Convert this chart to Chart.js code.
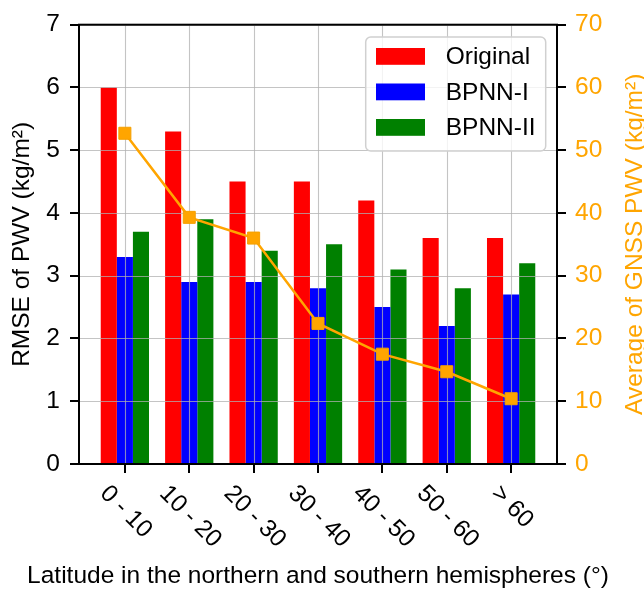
<!DOCTYPE html>
<html><head><meta charset="utf-8">
<script src="https://cdn.jsdelivr.net/npm/chart.js@4.4.1/dist/chart.umd.min.js"></script>
<style>html,body{margin:0;padding:0;background:#fff;overflow:hidden}</style>
</head><body>
<canvas id="c" width="644" height="593"></canvas>
<script>
const categories = ['0 - 10', '10 - 20', '20 - 30', '30 - 40', '40 - 50', '50 - 60', '> 60'];
const seriesNames = ['Original', 'BPNN-I', 'BPNN-II'];
const original = [6.0, 5.3, 4.5, 4.5, 4.2, 3.6, 3.6];
const bpnn1 = [3.3, 2.9, 2.9, 2.8, 2.5, 2.2, 2.7];
const bpnn2 = [3.7, 3.9, 3.4, 3.5, 3.1, 2.8, 3.2];
const gnssPwv = [52.7, 39.3, 36.0, 22.4, 17.5, 14.7, 10.4];
const leftTicks = [0, 1, 2, 3, 4, 5, 6, 7];
const rightTicks = [0, 10, 20, 30, 40, 50, 60, 70];
const xTitle = 'Latitude in the northern and southern hemispheres (°)';
const yTitle = 'RMSE of PWV (kg/m²)';
const y2Title = 'Average of GNSS PWV (kg/m²)';

const FONT = '"Liberation Sans", Arial, sans-serif';
const FS = 24.5;
const ORANGE = '#ffa500';
const barColors = ['#ff0000', '#0000ff', '#008000'];

const toXY = arr => arr.map((v, i) => ({ x: i, y: v }));

const tickGrid = { display: true, drawOnChartArea: false, drawTicks: true, tickLength: 9, color: '#000', lineWidth: 2, offset: false };

const overlay = {
  id: 'overlay',
  beforeDatasetDraw(chart, args) {
    if (args.meta.type !== 'line') return;
    const { ctx, chartArea: a, scales } = chart;
    ctx.save();
    ctx.beginPath(); ctx.rect(a.left, a.top, a.right - a.left, a.bottom - a.top); ctx.clip();
    ctx.strokeStyle = 'rgba(176,176,176,0.75)';
    ctx.lineWidth = 1.1;
    leftTicks.forEach(v => {
      const y = Math.round(scales.y.getPixelForValue(v)) + 0.5;
      ctx.beginPath(); ctx.moveTo(a.left, y); ctx.lineTo(a.right, y); ctx.stroke();
    });
    categories.forEach((c, i) => {
      const x = Math.round(scales.x.getPixelForValue(i)) + 0.5;
      ctx.beginPath(); ctx.moveTo(x, a.top); ctx.lineTo(x, a.bottom); ctx.stroke();
    });
    ctx.restore();
  },
  afterDraw(chart) {
    const { ctx, chartArea: a, scales } = chart;
    ctx.save();
    // frame
    ctx.strokeStyle = '#000'; ctx.lineWidth = 2;
    ctx.strokeRect(a.left, a.top, a.right - a.left, a.bottom - a.top);
    // x tick labels rotated
    ctx.font = FS + 'px ' + FONT;
    ctx.fillStyle = '#000';
    categories.forEach((c, i) => {
      const x = scales.x.getPixelForValue(i);
      const w = ctx.measureText(c).width;
      const cy = a.bottom + 16 + (w * Math.SQRT1_2 + 19.6) / 2;
      ctx.save();
      ctx.translate(x + 1, cy);
      ctx.rotate(Math.PI / 4);
      ctx.textAlign = 'center'; ctx.textBaseline = 'middle';
      ctx.fillText(c, 0, 0);
      ctx.restore();
    });
    // x title
    ctx.textAlign = 'center'; ctx.textBaseline = 'alphabetic';
    ctx.fillText(xTitle, (a.left + a.right) / 2, 583);
    // y titles
    const cyMid = (a.top + a.bottom) / 2;
    ctx.save();
    ctx.translate(28.5, cyMid); ctx.rotate(-Math.PI / 2);
    ctx.fillText(yTitle, 0, 0);
    ctx.restore();
    ctx.save();
    ctx.fillStyle = ORANGE;
    ctx.translate(642, cyMid); ctx.rotate(-Math.PI / 2);
    ctx.fillText(y2Title, 0, 0);
    ctx.restore();
    // legend
    const lx = a.right - 11.3 - 180, ly = a.top + 12.3, lw = 180, lh = 114;
    ctx.beginPath();
    ctx.roundRect(lx, ly, lw, lh, 5);
    ctx.fillStyle = 'rgba(255,255,255,0.8)';
    ctx.fill();
    ctx.strokeStyle = '#d0d0d0'; ctx.lineWidth = 1.5;
    ctx.stroke();
    ctx.textAlign = 'left'; ctx.textBaseline = 'middle';
    seriesNames.forEach((n, k) => {
      const rowY = ly + 19.4 + k * 35.5;
      ctx.fillStyle = barColors[k];
      ctx.fillRect(lx + 10.3, rowY - 8.4, 49, 16.8);
      ctx.fillStyle = '#000';
      ctx.fillText(n, lx + 80, rowY + 1);
    });
    ctx.restore();
  }
};

new Chart(document.getElementById('c').getContext('2d'), {
  type: 'bar',
  data: {
    datasets: [
      { label: seriesNames[0], data: toXY(original), backgroundColor: barColors[0], yAxisID: 'y', order: 1, barPercentage: 1, categoryPercentage: 0.75 },
      { label: seriesNames[1], data: toXY(bpnn1), backgroundColor: barColors[1], yAxisID: 'y', order: 1, barPercentage: 1, categoryPercentage: 0.75 },
      { label: seriesNames[2], data: toXY(bpnn2), backgroundColor: barColors[2], yAxisID: 'y', order: 1, barPercentage: 1, categoryPercentage: 0.75 },
      { type: 'line', label: 'Average of GNSS PWV', data: toXY(gnssPwv), yAxisID: 'y2', order: 0,
        borderColor: ORANGE, backgroundColor: ORANGE, borderWidth: 2.5, tension: 0,
        pointStyle: 'rect', pointRadius: 8.5, pointBorderWidth: 1, pointBorderColor: '#f5a000', pointBackgroundColor: ORANGE }
    ]
  },
  options: {
    responsive: false, animation: false, devicePixelRatio: 1,
    layout: { padding: { top: 16, left: 0, right: 0, bottom: 0 } },
    plugins: { legend: { display: false }, tooltip: { enabled: false } },
    scales: {
      x: {
        type: 'linear', min: -0.7125, max: 6.7125, offset: false,
        afterBuildTicks: s => { s.ticks = categories.map((c, i) => ({ value: i })); },
        afterFit: s => { s.height = 129; },
        ticks: { display: false },
        grid: tickGrid, border: { display: false }
      },
      y: {
        position: 'left', min: 0, max: 7,
        afterBuildTicks: s => { s.ticks = leftTicks.map(v => ({ value: v })); },
        afterFit: s => { s.width = 79; },
        ticks: { color: '#000', font: { family: FONT, size: FS }, padding: 10 },
        grid: tickGrid, border: { display: false }
      },
      y2: {
        position: 'right', min: 0, max: 70,
        afterBuildTicks: s => { s.ticks = rightTicks.map(v => ({ value: v })); },
        afterFit: s => { s.width = 87; },
        ticks: { color: ORANGE, font: { family: FONT, size: FS }, padding: 9 },
        grid: tickGrid, border: { display: false }
      }
    }
  },
  plugins: [overlay]
});
</script>
</body></html>
